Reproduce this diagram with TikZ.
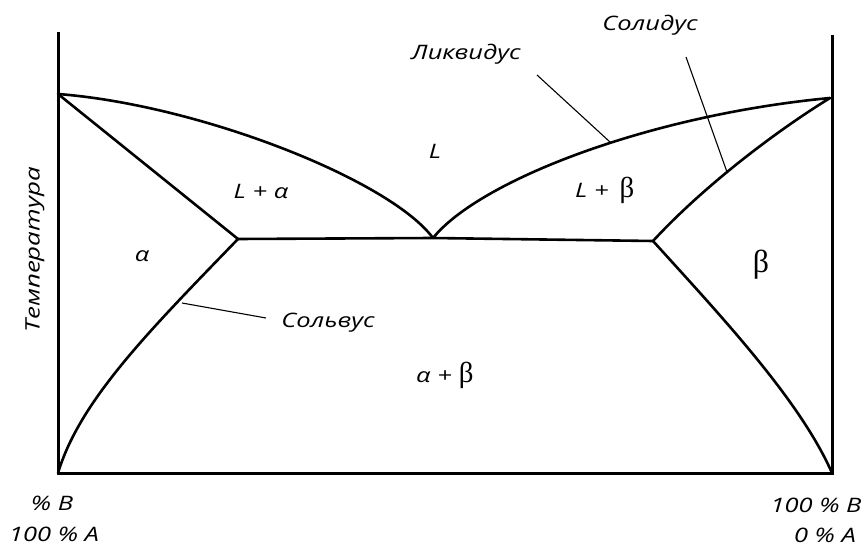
\documentclass[tikz,border=0pt]{standalone}
\usepackage{fontspec}
\setmainfont{Open Sans}
\newfontfamily\timesf{Liberation Serif}
\newcommand{\wideit}[1]{\scalebox{1.28}[1]{#1}}
\begin{document}
\begin{tikzpicture}[x=1bp,y=-1bp]
\tikzset{
  axisline/.style={line width=3bp, line join=miter},
  curve/.style={line width=2.6bp, line join=round, line cap=round},
  pointer/.style={line width=1.1bp},
  lbl/.style={font=\itshape\fontsize{20}{20}\selectfont, inner sep=0pt},
  bigb/.style={font=\timesf\upshape\fontsize{32}{32}\selectfont, inner sep=0pt}
}
\useasboundingbox (0,0) rectangle (861,548);
\fill[white] (0,0) rectangle (861,548);
% axes
\coordinate (TL) at (58,32);
\coordinate (BL) at (58,473);
\coordinate (BR) at (832,473);
\coordinate (TR) at (832,35);
\draw[axisline] (TL) -- (BL) -- (BR) -- (TR);
% key points
\coordinate (A) at (58,94);
\coordinate (B) at (830,98);
\coordinate (P1) at (238,239);
\coordinate (E) at (433,238);
\coordinate (P2) at (653,241);
% liquidus
\draw[curve] (A) .. controls (200,105) and (390,180) .. (E);
\draw[curve] (E) .. controls (480,180) and (650,115) .. (B);
% solidus
\draw[curve] (A) -- (P1);
\draw[curve] (P2) .. controls (700,190) and (770,135) .. (B);
% eutectic line
\draw[curve] (P1) -- (E) -- (P2);
% solvus
\draw[curve] (P1) .. controls (150,330) and (80,400) .. (BL);
\draw[curve] (P2) .. controls (720,315) and (800,400) .. (BR);
% pointer labels
\node[lbl] (liq) at (466,54) {\wideit{Ликвидус}};
\node[lbl] (sol) at (650,25) {\wideit{Солидус}};
\node[lbl] (solv) at (328,323) {\wideit{Сольвус}};
\coordinate (liqA) at (537,75);
\coordinate (liqB) at (610,142);
\coordinate (solA) at (686,57);
\coordinate (solB) at (727,172);
\coordinate (svA) at (266,318);
\coordinate (svB) at (182,303);
\draw[pointer] (liqA) -- (liqB);
\draw[pointer] (solA) -- (solB);
\draw[pointer] (svA) -- (svB);
% phase labels
\node[lbl] (L) at (435,151) {\wideit{L}};
\node[lbl] (La) at (261,191) {\wideit{L + α}};
\node[lbl, anchor=base west] (Lb) at (575,198) {\wideit{L +}\hspace{0.55em}{\timesf\upshape\fontsize{29}{29}\selectfont β}};
\node[lbl] (a) at (142,256) {\wideit{α}};
\node[bigb] (b) at (761,265) {β};
\node[lbl, anchor=base west] (ab) at (416,382) {\wideit{α +}\hspace{0.35em}{\timesf\upshape\fontsize{29}{29}\selectfont β}};
% axis labels
\node[lbl, rotate=90] (T) at (35,250) {\scalebox{1.3}[1]{Температура}};
\node[lbl] (pB) at (52,503) {\wideit{\% B}};
\node[lbl] (hA) at (54,534) {\wideit{100 \% A}};
\node[lbl] (hB) at (816,505) {\wideit{100 \% B}};
\node[lbl] (zA) at (825,535) {\wideit{0 \% A}};
\end{tikzpicture}
\end{document}
